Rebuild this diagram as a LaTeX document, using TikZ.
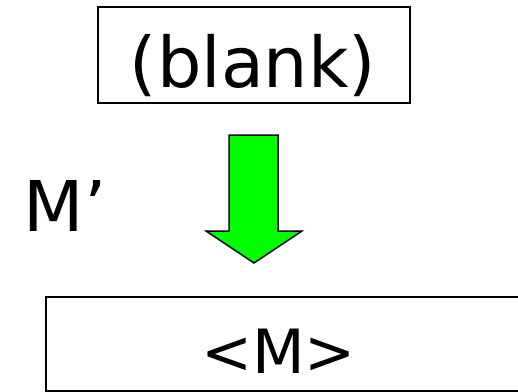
\documentclass[tikz,border=0pt]{standalone}
\usepackage{fontspec}
\setmainfont{DejaVu Sans}
\begin{document}
\begin{tikzpicture}[x=1pt,y=-1pt,
  boxstyle/.style={draw=black,line width=1.6pt,inner sep=0pt},
  bigtext/.style={inner sep=0pt,anchor=base,font=\fontsize{70}{80}\selectfont},
  midtext/.style={inner sep=0pt,anchor=base,font=\fontsize{61}{70}\selectfont},
  blockarrow/.style={fill={rgb,255:red,0;green,255;blue,0},draw=black,line width=1.5pt,line join=miter}]
\useasboundingbox (0,0) rectangle (518,391);
\node[boxstyle,minimum width=312pt,minimum height=96pt] (topbox) at (254,55) {};
\node[bigtext] (blank) at (253,87) {(blank)};
\node[bigtext] (mprime) at (65,231) {M’};
\node[boxstyle,minimum width=480pt,minimum height=94pt,anchor=north west] (botbox) at (45,296) {};
\node[midtext] (mtext) at (278.5,373) {<M>};
\draw[blockarrow] (229,135) -- (278,135) -- (278,231) -- (302,231) -- (254,263) -- (206,231) -- (229,231) -- cycle;
\end{tikzpicture}
\end{document}
